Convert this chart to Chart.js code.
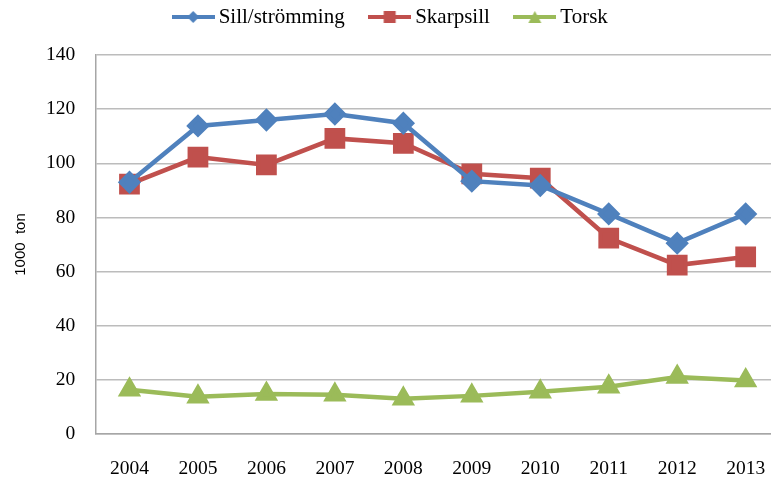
<!DOCTYPE html>
<html>
<head>
<meta charset="utf-8">
<script src="https://cdn.jsdelivr.net/npm/chart.js@4/dist/chart.umd.min.js"></script>
<style>
  html, body { margin: 0; padding: 0; background: #fff; }
  #wrap { width: 771px; height: 479px; }
</style>
</head>
<body>
<div id="wrap"><canvas id="c" width="771" height="479"></canvas></div>
<script>
// årtal och fångst (1000 ton)
const years = ["2004", "2005", "2006", "2007", "2008", "2009", "2010", "2011", "2012", "2013"];
const sill = [93, 113.8, 116, 118.2, 114.8, 93.4, 91.8, 81.3, 70.5, 81.3];
const skarpsill = [92.3, 102.3, 99.4, 109.2, 107.4, 96.1, 94.5, 72.4, 62.4, 65.4];
const torsk = [16.4, 13.8, 14.8, 14.5, 13, 14.1, 15.6, 17.5, 21.1, 19.8];
const yTicks = [0, 20, 40, 60, 80, 100, 120, 140];

const BLUE = "#4f81bd", RED = "#c0504d", GREEN = "#9bbb59";
const SERIF = "'Liberation Serif', 'Times New Roman', serif";

// punkter {x: år, y: värde}
const toPoints = arr => arr.map((v, i) => ({ x: Number(years[i]), y: v }));

// liten bild för legenden: linje med markör
function legendIcon(color, shape) {
  const cv = document.createElement("canvas");
  cv.width = 43; cv.height = 16;
  const g = cv.getContext("2d");
  g.strokeStyle = color; g.fillStyle = color; g.lineWidth = 4;
  g.beginPath(); g.moveTo(0, 8); g.lineTo(43, 8); g.stroke();
  g.beginPath();
  if (shape === "diamond") {
    g.moveTo(21.5, 2); g.lineTo(27.5, 8); g.lineTo(21.5, 14); g.lineTo(15.5, 8);
  } else if (shape === "square") {
    g.rect(15.5, 2, 12, 12);
  } else {
    g.moveTo(21.5, 2); g.lineTo(28, 14); g.lineTo(15, 14);
  }
  g.closePath(); g.fill();
  return cv;
}

// extra luft under legenden och lite förskjutning åt höger
const legendGap = {
  id: "legendGap",
  beforeInit(chart) {
    const fit = chart.legend.fit;
    chart.legend.fit = function () {
      fit.call(this);
      this.height += 17.5;
    };
  },
  afterLayout(chart) {
    chart.legend.left += 7;
    chart.legend.right += 7;
  },
};

const ctx = document.getElementById("c").getContext("2d");
new Chart(ctx, {
  type: "line",
  data: {
    datasets: [
      { label: "Sill/strömming", data: toPoints(sill), borderColor: BLUE, backgroundColor: BLUE,
        borderWidth: 4.5, pointStyle: "rectRot", pointRadius: 8.5, icon: legendIcon(BLUE, "diamond") },
      { label: "Skarpsill", data: toPoints(skarpsill), borderColor: RED, backgroundColor: RED,
        borderWidth: 4.5, pointStyle: "rect", pointRadius: 11.5, icon: legendIcon(RED, "square") },
      { label: "Torsk", data: toPoints(torsk), borderColor: GREEN, backgroundColor: GREEN,
        borderWidth: 4.5, pointStyle: "triangle", pointRadius: 9, icon: legendIcon(GREEN, "triangle") },
    ],
  },
  plugins: [legendGap],
  options: {
    responsive: false,
    animation: false,
    tension: 0,
    layout: { autoPadding: false, padding: { left: 1, right: 0, top: -23.5, bottom: -4 } },
    plugins: {
      legend: {
        position: "top",
        labels: {
          usePointStyle: true,
          pointStyleWidth: 30,
          boxHeight: 16,
          padding: 30,
          color: "#000",
          font: { family: SERIF, size: 21 },
          generateLabels(chart) {
            return chart.data.datasets.map((ds, i) => ({
              text: ds.label,
              pointStyle: ds.icon,
              fillStyle: ds.borderColor,
              strokeStyle: ds.borderColor,
              lineWidth: 0,
              datasetIndex: i,
              hidden: false,
            }));
          },
        },
      },
      tooltip: { enabled: false },
    },
    scales: {
      x: {
        type: "linear",
        // originalet är beskuret strax efter 2013
        min: 2003.5,
        max: 2013.37,
        afterBuildTicks(axis) { axis.ticks = years.map(y => ({ value: Number(y) })); },
        afterFit(axis) { axis.paddingLeft = 0; axis.paddingRight = 0; },
        grid: { display: false, drawTicks: false },
        border: { display: true, color: "#a6a6a6", width: 1.5 },
        ticks: {
          color: "#000",
          padding: 4,
          maxRotation: 0,
          autoSkip: false,
          font: { family: SERIF, size: 19.5, lineHeight: 1.05 },
          // tom första rad ger avståndet till axeln
          callback(value) { return ["", String(value)]; },
        },
      },
      y: {
        min: 0,
        max: 140,
        afterBuildTicks(axis) { axis.ticks = yTicks.map(v => ({ value: v })); },
        grid: { color: "#bcbcbc", lineWidth: 1.5, drawTicks: false },
        border: { display: true, color: "#a6a6a6", width: 1.5 },
        title: {
          display: true,
          text: "1000  ton",
          color: "#000",
          padding: { top: 11, bottom: -4 },
          font: { family: "'Liberation Sans', sans-serif", size: 15 },
        },
        ticks: {
          color: "#000",
          padding: 20,
          font: { family: SERIF, size: 19.5 },
        },
      },
    },
  },
});
</script>
</body>
</html>
